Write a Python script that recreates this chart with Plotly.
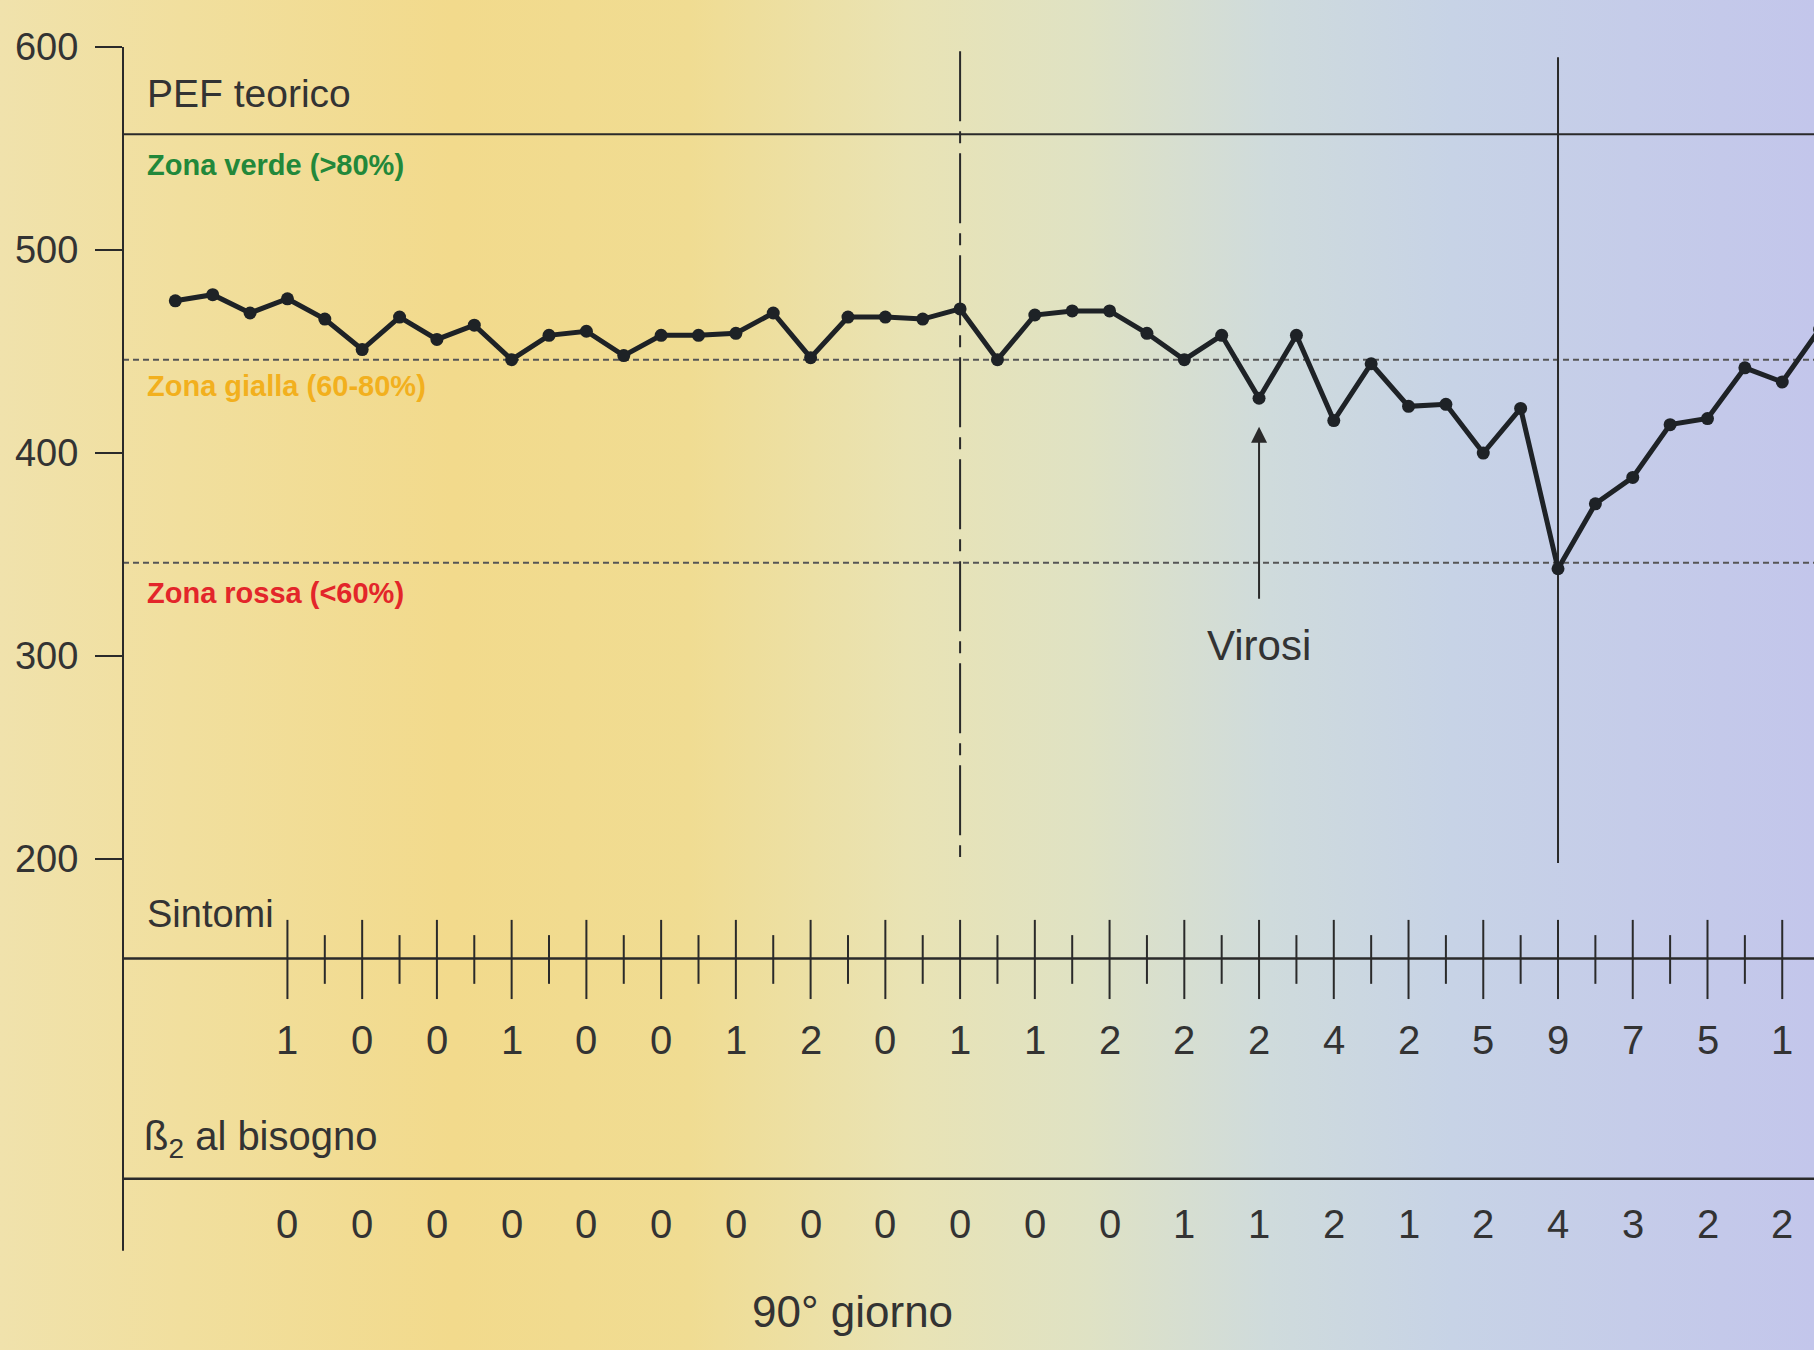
import base64
import plotly.graph_objects as go

# ---------------- data ----------------
days = list(range(45))
pef = [475, 478, 469, 476, 466, 451, 467, 456, 463, 446,
       458, 460, 448, 458, 458, 459, 469, 447, 467, 467,
       466, 471, 446, 468, 470, 470, 459, 446, 458, 427,
       458, 416, 444, 423, 424, 400, 422, 343, 375, 388,
       414, 417, 442, 435, 461]
score_days = [3, 5, 7, 9, 11, 13, 15, 17, 19, 21, 23,
              25, 27, 29, 31, 33, 35, 37, 39, 41, 43]
sintomi = [1, 0, 0, 1, 0, 0, 1, 2, 0, 1, 1, 2, 2, 2, 4, 2, 5, 9, 7, 5, 1]
beta2 = [0, 0, 0, 0, 0, 0, 0, 0, 0, 0, 0, 0, 1, 1, 2, 1, 2, 4, 3, 2, 2]
y_ticks = [200, 300, 400, 500, 600]
pef_teorico = 557
limite_gialla = 446
limite_rossa = 346
giorno_90 = 21
crisi_day = 37
virosi_day = 29

# ---------------- style / layout constants ----------------
X0, X1 = -1.40, 43.85
Y0, Y1 = -41.9, 623.2
W, H, ML = 1814, 1350, 123
FONT = "Liberation Sans Narrow, Arial Narrow, Liberation Sans, sans-serif"
INK = "#2a2a2a"
TXT = "#333333"

fig = go.Figure()

def seg(xs, ys, width=2, dash="solid", color=INK):
    fig.add_trace(go.Scatter(x=xs, y=ys, mode="lines",
                             line=dict(color=color, width=width, dash=dash),
                             hoverinfo="skip", showlegend=False))

# reference lines
seg([X0, X1], [pef_teorico, pef_teorico], 2)
seg([X0, X1], [limite_gialla, limite_gialla], 2, "6px,4px", "#555555")
seg([X0, X1], [limite_rossa, limite_rossa], 2, "6px,4px", "#555555")
# event lines
seg([giorno_90, giorno_90], [598, 201], 2, "70px,10px,12px,10px")
seg([crisi_day, crisi_day], [595, 198], 2)

# symptom row
SYM_Y = 151
seg([X0, X1], [SYM_Y, SYM_Y], 2.5)
mx, my = [], []
for d in score_days:
    mx += [d, d, None]
    my += [SYM_Y + 19, SYM_Y - 20, None]
for a, b in zip(score_days[:-1], score_days[1:]):
    m = (a + b) / 2
    mx += [m, m, None]
    my += [SYM_Y + 11.5, SYM_Y - 12.5, None]
seg(mx, my, 2)

# beta2 row
B2_Y = 42.5
seg([X0, X1], [B2_Y, B2_Y], 2.5)

# PEF series
fig.add_trace(go.Scatter(x=days, y=pef, mode="lines+markers",
                         line=dict(color="#1e2226", width=5),
                         marker=dict(color="#1e2226", size=13, symbol="circle"),
                         hoverinfo="skip", showlegend=False))

ann = []
def text(x, y, s, size, color=TXT, xanchor="left", weight="normal"):
    ann.append(dict(x=x, y=y, xref="x", yref="y", text=s, showarrow=False,
                    xanchor=xanchor, yanchor="middle",
                    font=dict(family=FONT, size=size, color=color, weight=weight)))

text(-0.80, 577, "PEF teorico", 39)
text(-0.80, 542, "Zona verde (>80%)", 29, "#22883a", weight="bold")
text(-0.80, 433, "Zona gialla (60-80%)", 29, "#f2b01e", weight="bold")
text(-0.80, 331, "Zona rossa (<60%)", 29, "#e3262a", weight="bold")
text(-0.82, 173, "Sintomi", 38)
text(-0.90, 62, "ß<sub>2</sub> al bisogno", 40)
text(18.13, -23, "90° giorno", 44, xanchor="center")
for d, v in zip(score_days, sintomi):
    text(d, 111, str(v), 40, xanchor="center")
for d, v in zip(score_days, beta2):
    text(d, 20, str(v), 40, xanchor="center")

# "Virosi" label with arrow pointing to the dip
ann.append(dict(x=virosi_day, y=413, ax=virosi_day, ay=305, xref="x", yref="y",
                axref="x", ayref="y", text="Virosi", showarrow=True, standoff=0,
                startstandoff=22, arrowhead=2, arrowsize=1.6, arrowwidth=2,
                arrowcolor=INK, font=dict(family=FONT, size=42, color=TXT)))

# background gradient (decorative scan tint)
stops = [(0.00, "#f0e2ac"), (0.10, "#f1df9e"), (0.25, "#f2da8c"),
         (0.38, "#f0dc92"), (0.50, "#e9e3b4"), (0.60, "#dfe2c4"),
         (0.70, "#cfdbdc"), (0.80, "#c7d3e6"), (0.90, "#c5cce9"),
         (1.00, "#c3c6eb")]
stop_xml = "".join(f'<stop offset="{o}" stop-color="{c}"/>' for o, c in stops)
svg = (f'<svg xmlns="http://www.w3.org/2000/svg" width="{W}" height="{H}" '
       f'viewBox="0 0 {W} {H}" preserveAspectRatio="none"><defs>'
       f'<linearGradient id="g" x1="0" y1="0" x2="1" y2="0">{stop_xml}'
       f'</linearGradient></defs><rect width="{W}" height="{H}" fill="url(#g)"/></svg>')
src = "data:image/svg+xml;base64," + base64.b64encode(svg.encode()).decode()
pw = W - ML

fig.update_layout(
    width=W, height=H, autosize=False,
    margin=dict(l=ML, r=0, t=0, b=0, pad=0),
    paper_bgcolor="#e6e0c0", plot_bgcolor="rgba(0,0,0,0)",
    showlegend=False, hovermode=False,
    xaxis=dict(range=[X0, X1], visible=False),
    yaxis=dict(range=[Y0, Y1], tickvals=y_ticks, ticks="outside", ticklen=27,
               tickwidth=2, tickcolor=INK, showgrid=False, zeroline=False,
               showline=False, ticklabelstandoff=9,
               tickfont=dict(family=FONT, size=38, color=TXT)),
    annotations=ann,
    shapes=[dict(type="line", xref="paper", yref="y", x0=0, x1=0, y0=7, y1=600,
                 line=dict(color=INK, width=2), layer="above")],
    images=[dict(source=src, xref="paper", yref="paper", x=-ML / pw, y=1,
                 sizex=W / pw, sizey=1, xanchor="left", yanchor="top",
                 sizing="stretch", layer="below")],
)

fig.write_html("out.html", config={"displayModeBar": False},
               post_script="document.body.style.margin='0';")
